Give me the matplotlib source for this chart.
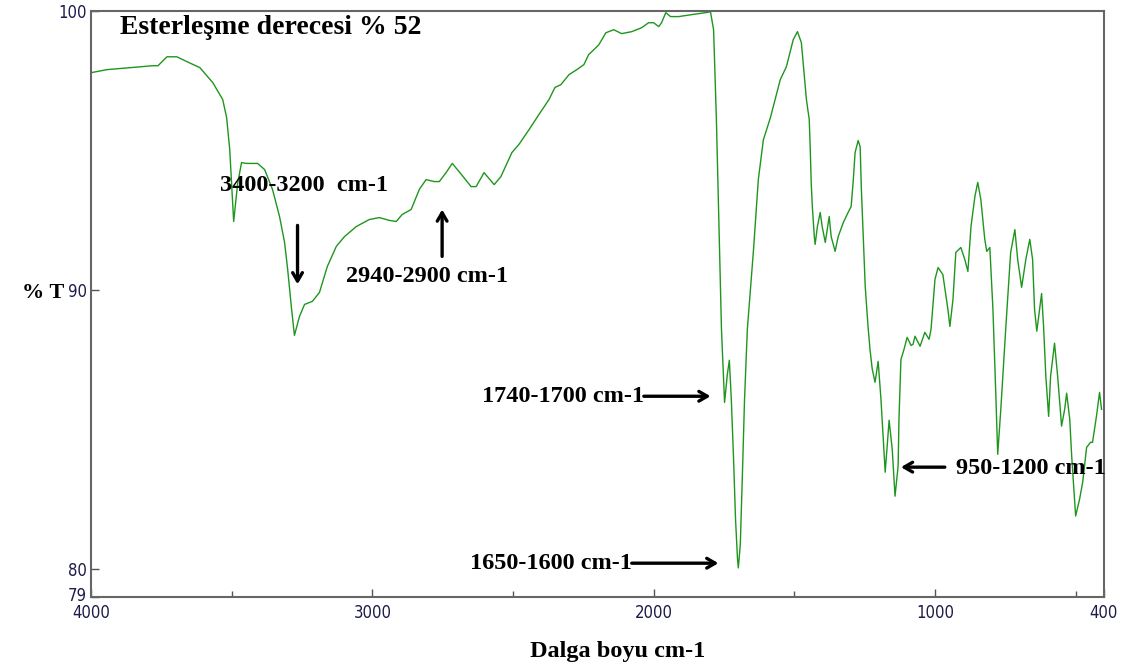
import matplotlib.pyplot as plt
import matplotlib.transforms as mtransforms
from matplotlib.ticker import FixedLocator

# FTIR spektrumu: dalga sayisi (cm-1) ve % gecirgenlik
wavenumber = [4000, 3943, 3780, 3762, 3730, 3695, 3660, 3613, 3567, 3532,
              3518, 3507, 3493, 3479, 3465, 3447, 3408, 3383, 3355, 3330,
              3312, 3301, 3287, 3277, 3259, 3241, 3213, 3188, 3160, 3128,
              3099, 3057, 3011, 2975, 2940, 2915, 2894, 2862, 2833, 2809,
              2780, 2762, 2738, 2716, 2692, 2649, 2631, 2603, 2567, 2543,
              2504, 2479, 2443, 2408, 2372, 2351, 2330, 2301, 2273, 2248,
              2231, 2213, 2195, 2170, 2142, 2114, 2078, 2043, 2018, 2000,
              1982, 1972, 1957, 1940, 1911, 1865, 1816, 1798, 1787, 1777,
              1770, 1759, 1748, 1738, 1731, 1724, 1716, 1709, 1702, 1699,
              1692, 1684, 1677, 1667, 1645, 1628, 1610, 1585, 1550, 1528,
              1504, 1489, 1475, 1457, 1447, 1443, 1440, 1436, 1429, 1426,
              1418, 1408, 1401, 1390, 1376, 1369, 1355, 1344, 1326, 1309,
              1298, 1291, 1284, 1273, 1266, 1262, 1255, 1248, 1238, 1231,
              1223, 1213, 1202, 1192, 1177, 1163, 1152, 1142, 1131, 1128,
              1121, 1110, 1099, 1085, 1078, 1071, 1053, 1036, 1021, 1014,
              1000, 989, 972, 954, 947, 936, 926, 908, 894, 883,
              872, 858, 848, 837, 823, 816, 805, 794, 784, 777,
              766, 748, 731, 716, 706, 692, 677, 663, 653, 646,
              638, 628, 621, 614, 606, 596, 589, 575, 564, 553,
              550, 539, 532, 521, 514, 500, 486, 475, 461, 447,
              440, 426, 415, 408]
transmittance = [97.78, 97.89, 98.03, 98.03, 98.35, 98.35, 98.18, 97.96, 97.42, 96.82,
                 96.17, 95.03, 92.45, 93.80, 94.56, 94.53, 94.53, 94.31, 93.60, 92.63,
                 91.70, 90.73, 89.30, 88.37, 89.05, 89.48, 89.59, 89.91, 90.84, 91.56,
                 91.91, 92.27, 92.52, 92.59, 92.49, 92.45, 92.70, 92.88, 93.60, 93.95,
                 93.88, 93.88, 94.20, 94.53, 94.24, 93.70, 93.70, 94.20, 93.77, 94.06,
                 94.92, 95.21, 95.74, 96.28, 96.82, 97.25, 97.35, 97.71, 97.89, 98.07,
                 98.43, 98.60, 98.78, 99.21, 99.32, 99.18, 99.25, 99.39, 99.57, 99.57,
                 99.43, 99.57, 99.93, 99.79, 99.79, 99.86, 99.93, 99.96, 99.32, 96.10,
                 93.24, 88.59, 85.97, 86.98, 87.48, 86.08, 83.94, 81.79, 80.36, 80.04,
                 80.89, 83.58, 86.08, 88.59, 91.45, 93.95, 95.38, 96.17, 97.53, 98.00,
                 98.96, 99.25, 98.86, 96.82, 96.10, 94.92, 93.85, 92.99, 91.91, 91.63,
                 92.27, 92.77, 92.27, 91.70, 92.63, 91.91, 91.38, 91.91, 92.41, 92.77,
                 92.99, 93.85, 94.92, 95.35, 95.13, 93.70, 91.91, 90.13, 88.69, 87.87,
                 87.16, 86.69, 87.44, 86.08, 83.47, 85.33, 84.29, 82.61, 83.69, 85.37,
                 87.51, 87.87, 88.30, 88.01, 88.05, 88.34, 87.98, 88.48, 88.23, 88.59,
                 90.38, 90.80, 90.55, 89.30, 88.69, 89.66, 91.34, 91.52, 91.09, 90.66,
                 92.27, 93.35, 93.85, 93.24, 91.81, 91.38, 91.52, 89.30, 86.33, 84.11,
                 85.72, 88.69, 91.34, 92.16, 91.09, 90.09, 91.09, 91.81, 91.09, 89.30,
                 88.52, 89.30, 89.87, 88.69, 86.91, 85.47, 86.91, 88.09, 86.91, 85.47,
                 85.12, 85.72, 86.30, 85.37, 84.04, 81.90, 82.50, 83.11, 84.36, 84.54,
                 84.54, 85.47, 86.33, 85.72]

x_ticks = [4000, 3000, 2000, 1000, 400]
y_ticks = [79, 80, 90, 100]

label_font = 'Liberation Serif'

fig = plt.figure(figsize=(11.24, 6.70), dpi=100)
ax = fig.add_axes([0.081, 0.109, 0.901, 0.875])

ax.plot(wavenumber, transmittance, color='#1e961e', linewidth=1.0)

ax.set_xlim(4000, 400)
ax.set_ylim(79, 100)
ax.set_xticks(x_ticks)
ax.set_yticks(y_ticks)
ax.xaxis.set_minor_locator(FixedLocator([3500, 2500, 1500, 500]))
ax.tick_params(axis='both', which='major', direction='in', length=6,
               width=1, colors='#555555', labelcolor='#1c1c48',
               labelsize=12)
ax.tick_params(axis='x', which='major', pad=5)
ax.tick_params(axis='y', which='major', pad=3)
ax.tick_params(axis='x', which='minor', direction='in', length=4,
               width=1, colors='#555555')
for lab in ax.get_xticklabels() + ax.get_yticklabels():
    lab.set_family('DejaVu Sans')
    lab.set_stretch('condensed')
# "79" etiketini biraz yukari kaydir, 4000 ile cakismasin
lab79 = ax.get_yticklabels()[0]
lab79.set_transform(lab79.get_transform() +
                    mtransforms.ScaledTranslation(0, 3 / 100, fig.dpi_scale_trans))
for side in ['left', 'right', 'top', 'bottom']:
    ax.spines[side].set_color('#666666')
    ax.spines[side].set_linewidth(1.5)

# Basliklar
ax.text(3897, 99.39, 'Esterleşme derecesi % 52', family=label_font,
        fontweight='bold', fontsize=20, va='center', ha='left')
fig.text(22 / 1124, 1 - 293 / 670, '% T', family=label_font,
         fontweight='bold', fontsize=16, va='center', ha='left')
fig.text(618 / 1124, 1 - 652 / 670, 'Dalga boyu cm-1', family=label_font,
         fontweight='bold', fontsize=17.5, va='center', ha='center')

# Piklerin etiketleri
label_kw = dict(family=label_font, fontweight='bold', fontsize=17.5, va='center')
ax.text(3543, 93.74, '3400-3200  cm-1', ha='left', **label_kw)
ax.text(3092, 90.48, '2940-2900 cm-1', ha='left', **label_kw)
ax.text(2035, 86.19, '1740-1700 cm-1', ha='right', **label_kw)
ax.text(2078, 80.21, '1650-1600 cm-1', ha='right', **label_kw)
ax.text(926, 83.61, '950-1200 cm-1', ha='left', **label_kw)

# Oklar
arrow_kw = dict(arrowstyle='->,head_length=0.6,head_width=0.35',
                color='black', lw=2.4, shrinkA=0, shrinkB=0)
ax.annotate('', xy=(3266, 90.20), xytext=(3266, 92.31), arrowprops=arrow_kw)
ax.annotate('', xy=(2752, 92.88), xytext=(2752, 91.20), arrowprops=arrow_kw)
ax.annotate('', xy=(1798, 86.19), xytext=(2035, 86.19), arrowprops=arrow_kw)
ax.annotate('', xy=(1770, 80.21), xytext=(2078, 80.21), arrowprops=arrow_kw)
ax.annotate('', xy=(1121, 83.65), xytext=(965, 83.65), arrowprops=arrow_kw)

plt.savefig('out.png', dpi=100)
